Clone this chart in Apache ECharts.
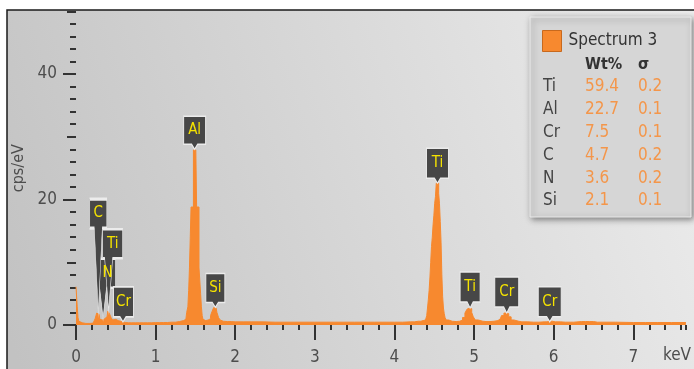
<!DOCTYPE html>
<html><head><meta charset="utf-8">
<script src="https://cdn.jsdelivr.net/npm/echarts@6/dist/echarts.min.js"></script>
<style>html,body{margin:0;padding:0;background:#fff}#c{width:694px;height:369px}</style>
</head><body><div id="c"></div>
<script>
// ---- data ----
const seriesName = 'Spectrum 3';
const energies = [0.00,0.01,0.02,0.03,0.04,0.06,0.10,0.15,0.20,0.23,0.25,0.27,0.29,0.31,0.33,0.35,0.37,0.39,0.41,0.43,0.45,0.47,0.50,0.53,0.56,0.59,0.62,0.66,0.70,0.80,0.90,1.00,1.10,1.20,1.30,1.35,1.38,1.40,1.41,1.42,1.43,1.44,1.45,1.46,1.47,1.48,1.49,1.50,1.51,1.52,1.53,1.54,1.55,1.56,1.57,1.58,1.59,1.60,1.63,1.66,1.68,1.70,1.72,1.74,1.76,1.78,1.80,1.82,1.85,1.90,2.00,2.20,2.50,3.00,3.50,4.00,4.20,4.30,4.36,4.38,4.40,4.41,4.42,4.43,4.44,4.45,4.46,4.47,4.48,4.49,4.50,4.51,4.52,4.53,4.54,4.55,4.56,4.57,4.58,4.59,4.60,4.61,4.62,4.63,4.64,4.66,4.70,4.75,4.80,4.84,4.87,4.90,4.92,4.94,4.96,4.98,5.00,5.03,5.07,5.15,5.25,5.30,5.33,5.36,5.39,5.42,5.45,5.48,5.52,5.60,5.75,5.88,5.95,6.02,6.15,6.35,6.45,6.55,7.00,7.30,7.66];
const counts   = [6.1,6.1,3.0,1.2,0.6,0.35,0.25,0.25,0.3,0.5,1.0,1.9,1.7,0.9,0.8,1.0,0.9,1.3,2.2,1.8,1.2,0.8,0.9,0.7,0.6,0.5,0.4,0.35,0.35,0.35,0.35,0.38,0.4,0.45,0.55,0.7,0.9,2.0,2.9,5.5,9.1,9.1,18.8,18.8,18.8,27.9,27.9,27.9,27.9,18.8,18.8,18.8,9.1,9.1,5.0,2.9,1.5,0.9,0.7,0.8,1.0,1.5,2.2,2.8,2.7,2.0,1.2,0.8,0.6,0.55,0.5,0.5,0.45,0.45,0.45,0.45,0.5,0.6,0.7,0.8,1.0,1.5,2.7,4.0,5.5,7.5,10.0,12.5,14.0,16.0,17.5,19.4,20.5,22.6,22.6,22.6,21.0,19.4,16.5,13.2,8.0,4.5,2.7,1.8,1.2,0.8,0.6,0.55,0.6,0.8,1.2,1.9,2.5,2.7,2.6,2.0,1.3,0.8,0.6,0.55,0.6,0.7,1.0,1.5,1.9,1.8,1.3,0.8,0.6,0.5,0.45,0.5,0.6,0.5,0.45,0.55,0.55,0.45,0.4,0.4,0.4];
const xTickLabels = [0,1,2,3,4,5,6,7];
const yTickLabels = [0,20,40];
const peakNames    = ['N','C','Ti','Cr','Al','Si','Ti','Ti','Cr','Cr'];
const peakEnergies = [0.34,0.28,0.41,0.59,1.49,1.75,4.54,4.95,5.41,5.95];
const peakHeights  = [1.0,1.9,2.2,0.5,28.0,2.8,22.6,2.7,1.9,0.5];
const quantElements = ['Ti','Al','Cr','C','N','Si'];
const quantWt       = ['59.4','22.7','7.5','4.7','3.6','2.1'];
const quantSigma    = ['0.2','0.1','0.1','0.2','0.2','0.1'];

// ---- styles ----
const FONT = "'Liberation Sans Narrow','DejaVu Sans Condensed','Liberation Sans',sans-serif";
const ORANGE = '#f7892f';
const TXT = '#4d4d4d';
// pin shape per label: [boxWidth, boxHeight, tailLength, tipX]
const pinShapes = [[16,29,31,3.5],[17,29,85,8.5],[20,29,53,6],[20,30,5,9.5],[22,28,5,11],[19,29,5,9.5],[22,30,5,11],[20,30,6,10],[24,30,6,12],[23,30,5,11.5]];

function pinPath(w,h,t,tx){
  const a = Math.min(t > 10 ? 4 : 3, tx, w - tx);
  return 'path://M0 0H'+w+'V'+h+'H'+(tx+a)+'L'+tx+' '+(h+t)+'L'+(tx-a)+' '+h+'H0Z';
}
const pinData = peakNames.map((n,i) => {
  const [w,h,t,tx] = pinShapes[i];
  return {name:n, coord:[peakEnergies[i], peakHeights[i]],
    symbol: pinPath(w,h,t,tx), symbolSize:[w,h+t],
    symbolOffset:[w/2-tx, -(h+t)/2], label:{offset:[0,-t/2]}};
});

const panelX = 530, panelY = 17;
const graphics = [
  {type:'rect', z:-10, silent:true, shape:{x:7,y:10,width:720,height:400},
   style:{fill:{type:'linear',x:0,y:0.8,x2:1,y2:0.2,colorStops:[{offset:0,color:'#c2c2c2'},{offset:1,color:'#ededed'}]}, stroke:'#1a1a1a', lineWidth:1.5}},
  {type:'rect', z:10, silent:true, shape:{x:panelX,y:panelY,width:161,height:200},
   style:{fill:'#d6d6d6', stroke:'#ebebeb', lineWidth:1, shadowBlur:6, shadowOffsetX:2, shadowOffsetY:2, shadowColor:'rgba(0,0,0,0.45)'}},
  {type:'text', z:11, silent:true, x:585, y:65, style:{text:'Wt%', fill:'#333', fontSize:16, fontWeight:'bold', fontFamily:FONT, verticalAlign:'middle'}},
  {type:'text', z:11, silent:true, x:638, y:65, style:{text:'σ', fill:'#333', fontSize:16, fontWeight:'bold', fontFamily:FONT, verticalAlign:'middle'}}
];
quantElements.forEach((el,i) => {
  const y = 87 + i*22.8;
  graphics.push({type:'text', z:11, silent:true, x:543, y:y, style:{text:el, fill:'#444', fontSize:17, fontFamily:FONT, verticalAlign:'middle'}});
  graphics.push({type:'text', z:11, silent:true, x:585, y:y, style:{text:quantWt[i], fill:'#f4964a', fontSize:17, fontFamily:FONT, verticalAlign:'middle'}});
  graphics.push({type:'text', z:11, silent:true, x:638, y:y, style:{text:quantSigma[i], fill:'#f4964a', fontSize:17, fontFamily:FONT, verticalAlign:'middle'}});
});

const tickLine = {color:'#333', width:2};
const chart = echarts.init(document.getElementById('c'), null, {renderer:'canvas'});
chart.setOption({
  animation:false,
  backgroundColor:'#ffffff',
  graphic: graphics,
  legend:{data:[seriesName], left:537, top:25, itemWidth:19, itemHeight:21, icon:'rect', z:20, selectedMode:false,
    itemStyle:{borderColor:'#c8691d', borderWidth:1},
    textStyle:{color:'#333', fontSize:17, fontFamily:FONT, padding:[0,0,0,2]}},
  grid:{left:76, right:4, top:11.25, bottom:44},
  xAxis:[
    {type:'value', position:'bottom', min:0, max:7.66, interval:0.2, offset:7,
     axisLine:{show:false}, splitLine:{show:false},
     axisTick:{show:true, length:5, lineStyle:tickLine},
     axisLabel:{margin:17, color:TXT, fontSize:17, fontFamily:FONT,
       formatter: v => (Math.abs(v-Math.round(v))<1e-6 && xTickLabels.includes(Math.round(v))) ? String(Math.round(v)) : ''}},
    {type:'value', position:'bottom', min:0, max:7.66, offset:3,
     axisLine:{show:false}, splitLine:{show:false},
     axisTick:{show:true, length:15, lineStyle:tickLine, customValues:xTickLabels},
     axisLabel:{show:false},
     name:'keV', nameLocation:'end', nameGap:-23,
     nameTextStyle:{color:TXT, fontSize:17, fontFamily:FONT, verticalAlign:'top', padding:[22,0,0,0]}}
  ],
  yAxis:[
    {type:'value', position:'left', min:0, max:50, interval:10, offset:2,
     axisLine:{show:false}, splitLine:{show:false},
     axisTick:{show:true, length:9, lineStyle:tickLine},
     minorTick:{show:true, splitNumber:5, length:6, lineStyle:tickLine},
     minorSplitLine:{show:false},
     axisLabel:{margin:17, color:TXT, fontSize:17, fontFamily:FONT,
       formatter: v => yTickLabels.includes(v) ? String(v) : ''},
     name:'cps/eV', nameLocation:'middle', nameGap:44,
     nameTextStyle:{color:TXT, fontSize:16, fontFamily:FONT}},
    {type:'value', position:'left', min:0, max:50, offset:2,
     axisLine:{show:false}, splitLine:{show:false},
     axisTick:{show:true, length:13, lineStyle:tickLine, customValues:yTickLabels},
     axisLabel:{show:false}}
  ],
  series:[{
    type:'line', name:seriesName, xAxisIndex:0, yAxisIndex:0,
    data: energies.map((e,i) => [e, counts[i]]),
    step:'middle', symbol:'none', showSymbol:false,
    lineStyle:{color:ORANGE, width:1},
    itemStyle:{color:ORANGE},
    areaStyle:{color:ORANGE, opacity:1},
    markPoint:{
      silent:true, symbolKeepAspect:false,
      itemStyle:{color:'#474747', borderColor:'#ececec', borderWidth:1.2},
      label:{show:true, position:'inside', formatter:'{b}', color:'#f5e300', fontSize:15, fontFamily:FONT},
      data: pinData
    }
  }]
});
</script></body></html>
